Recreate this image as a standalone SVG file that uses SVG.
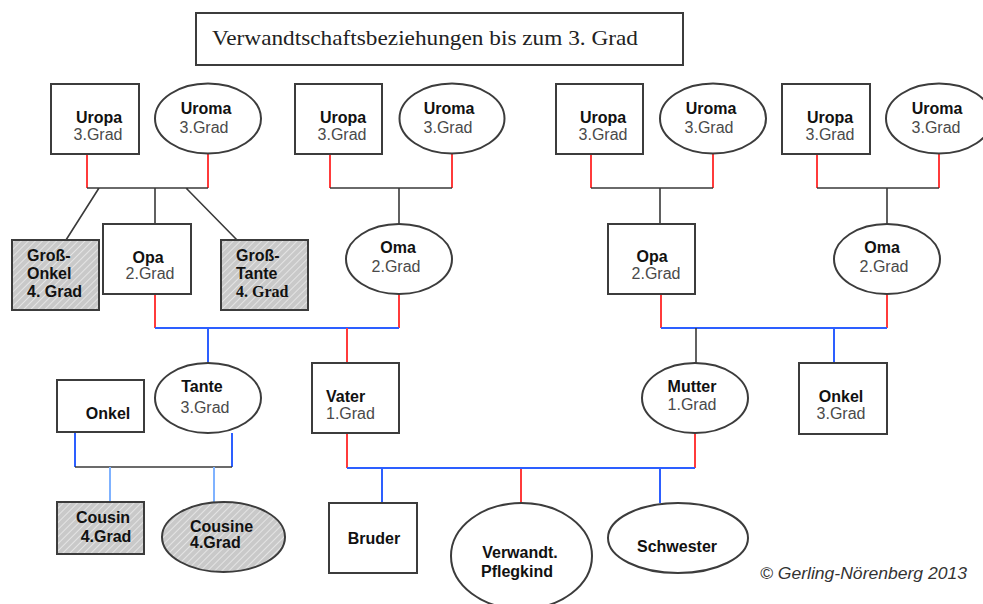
<svg xmlns="http://www.w3.org/2000/svg" width="983" height="604" viewBox="0 0 983 604">
<defs>
<pattern id="hatch" patternUnits="userSpaceOnUse" width="5" height="5" patternTransform="rotate(45)">
<rect width="5" height="5" fill="#c9c9c9"/>
<line x1="0" y1="0" x2="0" y2="5" stroke="#ececec" stroke-width="1.6"/>
</pattern>
</defs>
<style>
.box{fill:#fff;stroke:#3c3c3c;stroke-width:2}
.hat{fill:url(#hatch);stroke:#3c3c3c;stroke-width:2}
.b{font-family:"Liberation Sans",Arial,sans-serif;font-size:16px;font-weight:bold;fill:#111}
.r{font-family:"Liberation Sans",Arial,sans-serif;font-size:16px;fill:#4a4a4a}
.m{text-anchor:middle}
.red{stroke:#ff3b3b;stroke-width:2;fill:none}
.blu{stroke:#2d5fff;stroke-width:2;fill:none}
.lbl{stroke:#7fb2ff;stroke-width:2;fill:none}
.blk{stroke:#3a3a3a;stroke-width:1.6;fill:none}
</style>
<rect width="983" height="604" fill="#fff"/>

<g id="title">
<rect x="196" y="13" width="487" height="52" fill="#fff" stroke="#3c3c3c" stroke-width="2"/>
<text x="212" y="45" font-family="'Liberation Serif','Times New Roman',serif" font-size="21" fill="#222" textLength="426" lengthAdjust="spacingAndGlyphs">Verwandtschaftsbeziehungen bis zum 3. Grad</text>
</g>

<g id="connectors">
<path class="red" d="M87 154V188M208 153V188"/>
<path class="blk" d="M87 188H208M99 188L66 240M155 188V224M186 188L237 240"/>
<path class="red" d="M330 154V188M452 153V188"/>
<path class="blk" d="M330 188H452M399 188V224"/>
<path class="red" d="M591 154V188M713 153V188"/>
<path class="blk" d="M591 188H713M660 188V224"/>
<path class="red" d="M817 154V188M939 153V188"/>
<path class="blk" d="M817 188H939M887 188V224"/>
<path class="red" d="M155 294V328M399 294V328"/>
<path class="blu" d="M155 328H399M208 328V363"/>
<path class="red" d="M347 328V363"/>
<path class="red" d="M661 294V328M887 294V328"/>
<path class="blu" d="M661 328H887M834 328V363"/>
<path class="blk" d="M696 328V363"/>
<path class="blu" d="M75 432V467M232 433V467"/>
<path class="blk" d="M75 467H232"/>
<path class="lbl" d="M110 467V502M214 467V502"/>
<path class="red" d="M347 433V468M695 433V468M521 468V503"/>
<path class="blu" d="M347 468H695M382 468V503M660 468V503"/>
</g>

<g id="uropa1"><rect class="box" x="51" y="84" width="88" height="70"/><text class="b m" x="99" y="123">Uropa</text><text class="r m" x="98" y="140">3.Grad</text></g>
<g id="uroma1"><ellipse class="box" cx="208" cy="118.5" rx="53" ry="35"/><text class="b m" x="206" y="114">Uroma</text><text class="r m" x="204" y="133">3.Grad</text></g>
<g id="uropa2"><rect class="box" x="295" y="84" width="87" height="70"/><text class="b m" x="343" y="123">Uropa</text><text class="r m" x="342" y="140">3.Grad</text></g>
<g id="uroma2"><ellipse class="box" cx="452" cy="118.5" rx="52.5" ry="35"/><text class="b m" x="449" y="114">Uroma</text><text class="r m" x="448" y="133">3.Grad</text></g>
<g id="uropa3"><rect class="box" x="556" y="84" width="87" height="70"/><text class="b m" x="603" y="123">Uropa</text><text class="r m" x="603" y="140">3.Grad</text></g>
<g id="uroma3"><ellipse class="box" cx="713" cy="118.5" rx="53" ry="35"/><text class="b m" x="711" y="114">Uroma</text><text class="r m" x="709" y="133">3.Grad</text></g>
<g id="uropa4"><rect class="box" x="782" y="84" width="88" height="70"/><text class="b m" x="830" y="123">Uropa</text><text class="r m" x="830" y="140">3.Grad</text></g>
<g id="uroma4"><ellipse class="box" cx="939" cy="118.5" rx="53" ry="35"/><text class="b m" x="937" y="114">Uroma</text><text class="r m" x="936" y="133">3.Grad</text></g>

<g id="grossonkel"><rect class="hat" x="12" y="240" width="87" height="70"/><text class="b" x="27" y="261">Groß-</text><text class="b" x="27" y="279">Onkel</text><text class="b" x="27" y="297">4. Grad</text></g>
<g id="opa1"><rect class="box" x="103" y="224" width="88" height="70"/><text class="b m" x="148" y="263">Opa</text><text class="r m" x="150" y="279">2.Grad</text></g>
<g id="grosstante"><rect class="hat" x="221" y="240" width="87" height="70"/><text class="b" x="236" y="261">Groß-</text><text class="b" x="236" y="279">Tante</text><text x="236" y="297" font-family="'Liberation Serif','Times New Roman',serif" font-size="16" font-weight="bold" fill="#111">4. Grad</text></g>
<g id="oma1"><ellipse class="box" cx="399" cy="259" rx="53" ry="35"/><text class="b m" x="398" y="253">Oma</text><text class="r m" x="396" y="272">2.Grad</text></g>
<g id="opa2"><rect class="box" x="608" y="224" width="87" height="70"/><text class="b m" x="652" y="262">Opa</text><text class="r m" x="656" y="279">2.Grad</text></g>
<g id="oma2"><ellipse class="box" cx="887" cy="259" rx="53" ry="35"/><text class="b m" x="882" y="253">Oma</text><text class="r m" x="884" y="272">2.Grad</text></g>

<g id="onkel-links"><rect class="box" x="57" y="380" width="87" height="52"/><text class="b m" x="108" y="419">Onkel</text></g>
<g id="tante"><ellipse class="box" cx="208" cy="398" rx="53" ry="35"/><text class="b m" x="202" y="392">Tante</text><text class="r m" x="205" y="413">3.Grad</text></g>
<g id="vater"><rect class="box" x="312" y="363" width="87" height="70"/><text class="b" x="326" y="402">Vater</text><text class="r" x="326" y="419">1.Grad</text></g>
<g id="mutter"><ellipse class="box" cx="695" cy="398" rx="53" ry="35"/><text class="b m" x="692" y="392">Mutter</text><text class="r m" x="692" y="410">1.Grad</text></g>
<g id="onkel-rechts"><rect class="box" x="799" y="363" width="88" height="71"/><text class="b m" x="841" y="402">Onkel</text><text class="r m" x="841" y="419">3.Grad</text></g>

<g id="cousin"><rect class="hat" x="57" y="502" width="87" height="52"/><text class="b m" x="103" y="523">Cousin</text><text class="b m" x="106" y="542">4.Grad</text></g>
<g id="cousine"><ellipse class="hat" cx="223.5" cy="537" rx="61.5" ry="35"/><text class="b" x="190" y="532">Cousine</text><text class="b" x="190" y="548">4.Grad</text></g>
<g id="bruder"><rect class="box" x="329" y="503" width="88" height="70"/><text class="b m" x="374" y="544">Bruder</text></g>
<g id="pflegkind"><ellipse class="box" cx="521.5" cy="556" rx="70.5" ry="53"/><text class="b m" x="520" y="558">Verwandt.</text><text class="b m" x="517" y="577">Pflegkind</text></g>
<g id="schwester"><ellipse class="box" cx="678" cy="538" rx="70" ry="35"/><text class="b m" x="677" y="552">Schwester</text></g>

<text x="760" y="579" font-family="'Liberation Sans',Arial,sans-serif" font-size="16" font-style="italic" fill="#333" textLength="207" lengthAdjust="spacingAndGlyphs">© Gerling-Nörenberg 2013</text>
</svg>
